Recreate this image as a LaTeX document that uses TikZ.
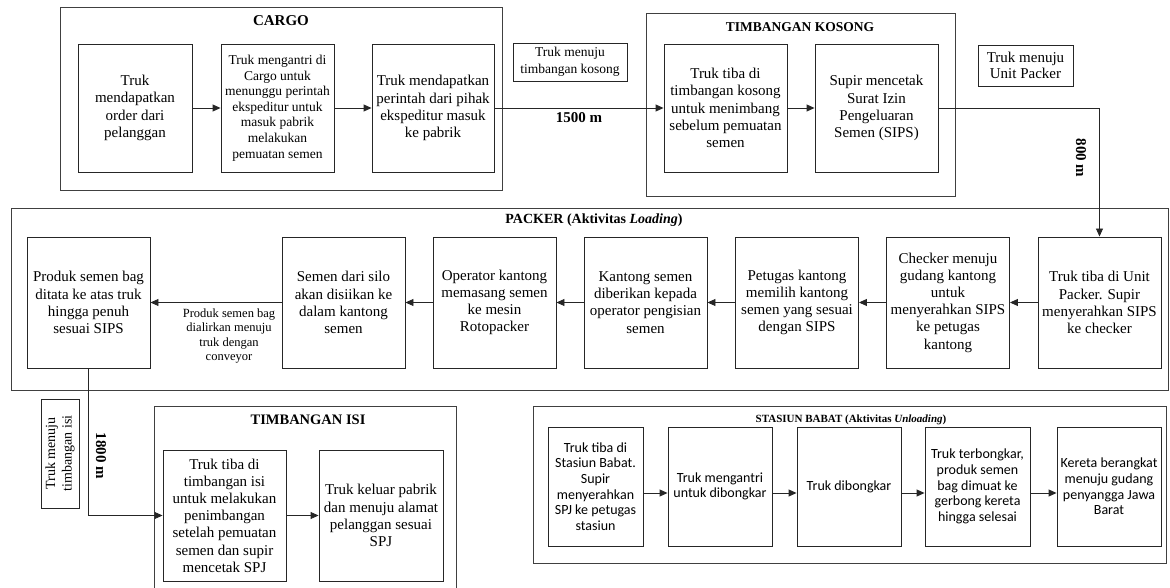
\documentclass[tikz,border=0pt]{standalone}
\usepackage{fontspec}
\setmainfont{Liberation Serif}
\newfontfamily\calibrifont{Carlito}
\usetikzlibrary{arrows.meta}

\begin{document}
\begin{tikzpicture}[x=1pt, y=-1pt,
  proc/.style={draw=black!85, line width=0.9pt, align=center, inner sep=1pt,
    minimum width=123pt, minimum height=131pt, font=\fontsize{15}{17.2}\selectfont},
  sproc/.style={proc, minimum width=104pt, minimum height=119pt,
    font=\calibrifont\fontsize{14}{15.6}\selectfont},
  lbl/.style={draw=black!85, line width=0.9pt, align=center, inner sep=2pt,
    font=\fontsize{13.5}{16.5}\selectfont},
  grp/.style={draw=black!75, line width=0.9pt},
  ttl/.style={font=\bfseries\fontsize{14.5}{16}\selectfont},
  dist/.style={font=\bfseries\fontsize{15}{16}\selectfont},
  arr/.style={draw=black!85, line width=0.9pt, -{Triangle[length=8pt,width=7pt]}}]

  \clip (0,0) rectangle (1170,588);

  % CARGO
  \draw[grp] (60,7) rectangle (502,190);
  \node[ttl, font=\bfseries\fontsize{15}{16}\selectfont] (tcargo) at (281,21) {CARGO};
  \node[proc, minimum width=114pt, minimum height=128pt] (c1) at (135,108)
       {Truk\\mendapatkan\\order dari\\pelanggan};
  \node[proc, minimum width=113pt, minimum height=128pt, font=\fontsize{13.5}{15.6}\selectfont] (c2) at (277.5,108)
       {Truk mengantri di\\Cargo untuk\\menunggu perintah\\ekspeditur untuk\\masuk pabrik\\melakukan\\pemuatan semen};
  \node[proc, minimum width=122pt, minimum height=128pt] (c3) at (433,108)
       {Truk mendapatkan\\perintah dari pihak\\ekspeditur masuk\\ke pabrik};

  % TIMBANGAN KOSONG
  \node[lbl, minimum width=114pt, minimum height=38pt] (lkosong) at (570,62)
       {Truk menuju\\timbangan kosong};
  \draw[grp] (646,13) rectangle (955,196);
  \node[ttl, font=\bfseries\fontsize{13.5}{15}\selectfont] (tkosong) at (800,27) {TIMBANGAN KOSONG};
  \node[proc, minimum height=128pt] (k1) at (725.5,108)
       {Truk tiba di\\timbangan kosong\\untuk menimbang\\sebelum pemuatan\\semen};
  \node[proc, minimum height=128pt] (k2) at (876.5,108)
       {Supir mencetak\\Surat Izin\\Pengeluaran\\Semen (SIPS)};
  \node[lbl, minimum width=95pt, minimum height=41pt, font=\fontsize{15}{16.5}\selectfont] (lpacker) at (1025.5,65.5)
       {Truk menuju\\Unit Packer};

  % PACKER
  \draw[grp] (11,208) rectangle (1168,390);
  \node[ttl, font=\bfseries\fontsize{14}{15}\selectfont] (tpacker) at (594,220)
       {PACKER (Aktivitas \textit{Loading})};
  \node[proc] (p1) at (88.5,302.5) {Produk semen bag\\ditata ke atas truk\\hingga penuh\\sesuai SIPS};
  \node[proc] (p2) at (343.5,302.5) {Semen dari silo\\akan disiikan ke\\dalam kantong\\semen};
  \node[proc] (p3) at (494.5,302.5) {Operator kantong\\memasang semen\\ke mesin\\Rotopacker};
  \node[proc] (p4) at (645.5,302.5) {Kantong semen\\diberikan kepada\\operator pengisian\\semen};
  \node[proc] (p5) at (797,302.5) {Petugas kantong\\memilih kantong\\semen yang sesuai\\dengan SIPS};
  \node[proc] (p6) at (948,302.5) {Checker menuju\\gudang kantong\\untuk\\menyerahkan SIPS\\ke petugas\\kantong};
  \node[proc] (p7) at (1099.5,302.5) {Truk tiba di Unit\\Packer. Supir\\menyerahkan SIPS\\ke checker};
  \node[align=center, font=\fontsize{12.5}{14.2}\selectfont] (lconv) at (229,336)
       {Produk semen bag\\dialirkan menuju\\truk dengan\\conveyor};

  % TIMBANGAN ISI
  \node[lbl, rotate=90, minimum width=109pt, minimum height=38pt, font=\fontsize{14}{16.5}\selectfont] (lisi) at (60,453.5)
       {Truk menuju\\timbangan isi};
  \draw[grp] (154,406) rectangle (456,600);
  \node[ttl] (tisi) at (308,420) {TIMBANGAN ISI};
  \node[proc] (i1) at (224.5,515.5)
       {Truk tiba di\\timbangan isi\\untuk melakukan\\penimbangan\\setelah pemuatan\\semen dan supir\\mencetak SPJ};
  \node[proc, minimum width=124pt] (i2) at (381,515.5)
       {Truk keluar pabrik\\dan menuju alamat\\pelanggan sesuai\\SPJ};

  % STASIUN BABAT
  \draw[grp] (533,406) rectangle (1166,563);
  \node[ttl, font=\bfseries\fontsize{11}{12}\selectfont] (tbabat) at (851,420)
       {STASIUN BABAT (Aktivitas \textit{Unloading})};
  \node[sproc, minimum width=95pt] (s1) at (595.5,486.5)
       {Truk tiba di\\Stasiun Babat.\\Supir\\menyerahkan\\SPJ ke petugas\\stasiun};
  \node[sproc] (s2) at (720,486.5) {Truk mengantri\\untuk dibongkar};
  \node[sproc] (s3) at (849,486.5) {Truk dibongkar};
  \node[sproc, minimum width=105pt] (s4) at (977.5,486.5)
       {Truk terbongkar,\\produk semen\\bag dimuat ke\\gerbong kereta\\hingga selesai};
  \node[sproc] (s5) at (1109,486.5) {Kereta berangkat\\menuju gudang\\penyangga Jawa\\Barat};

  % jarak
  \node[dist, rotate=-90] (d800) at (1081,158) {800 m};
  \node[dist, rotate=-90] (d1800) at (101,456) {1800 m};

  % arrows
  \draw[arr] (c1) -- (c2);
  \draw[arr] (c2) -- (c3);
  \draw[arr] (c3) -- node[dist, below, yshift=-1pt] (d1500) {1500 m} (k1);
  \draw[arr] (k1) -- (k2);
  \draw[arr] (k2.east) -| (p7.north);
  \draw[arr] (p7) -- (p6);
  \draw[arr] (p6) -- (p5);
  \draw[arr] (p5) -- (p4);
  \draw[arr] (p4) -- (p3);
  \draw[arr] (p3) -- (p2);
  \draw[arr] (p2) -- (p1);
  \draw[arr] (p1.south) |- (i1.west);
  \draw[arr] (i1) -- (i2);
  \foreach \a/\b in {s1/s2, s2/s3, s3/s4, s4/s5}
    \draw[arr] ([yshift=-6.5pt]\a.east) -- ([yshift=-6.5pt]\b.west);
\end{tikzpicture}
\end{document}
